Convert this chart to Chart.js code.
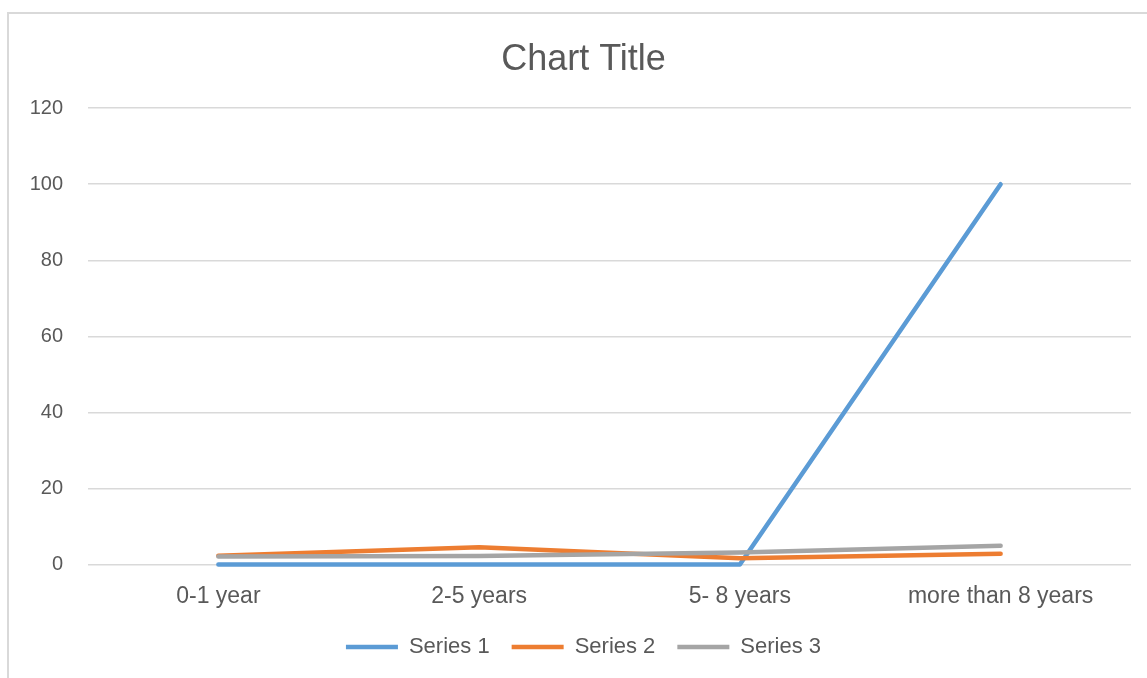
<!DOCTYPE html>
<html>
<head>
<meta charset="utf-8">
<script src="https://cdn.jsdelivr.net/npm/chart.js@4"></script>
<style>
  html, body { margin: 0; padding: 0; background: #ffffff; }
  #frame {
    position: absolute; left: 7px; top: 12px; width: 1160px; height: 700px;
    border: 2px solid #D9D9D9; box-sizing: border-box;
  }
  #wrap { position: absolute; left: 0; top: 0; width: 1147px; height: 678px; }
</style>
</head>
<body>
<div id="frame"></div>
<div id="wrap"><canvas id="chart" width="1147" height="678"></canvas></div>
<script>
// Categories and series values
const categories = ["0-1 year", "2-5 years", "5- 8 years", "more than 8 years"];
const series1 = [0, 0, 0, 100];
const series2 = [2.3, 4.5, 1.6, 2.8];
const series3 = [2.1, 2.2, 3.1, 4.9];
const seriesNames = ["Series 1", "Series 2", "Series 3"];
const yTicks = [0, 20, 40, 60, 80, 100, 120];

const textColor = "#595959";
const gridColor = "#D9D9D9";
const fontFamily = "'Liberation Sans', Arial, sans-serif";

function lineSet(label, data, color, order) {
  return {
    label, data,
    borderColor: color, backgroundColor: color,
    borderWidth: 4.5, borderCapStyle: "round", borderJoinStyle: "round",
    pointRadius: 0, pointHoverRadius: 0, tension: 0, fill: false,
    clip: false, order
  };
}

// The y axis sits inside the left padding band; widen the label clip boxes
// of both axes out to the canvas edges so no tick text is cut off.
const labelClip = {
  id: "labelClip",
  afterLayout(chart) {
    chart.scales.y.left = 0;
    chart.scales.x.bottom = chart.height;
  }
};

new Chart(document.getElementById("chart"), {
  type: "line",
  data: {
    labels: categories,
    datasets: [
      lineSet(seriesNames[0], series1, "#5B9BD5", 2),
      lineSet(seriesNames[1], series2, "#ED7D31", 1),
      lineSet(seriesNames[2], series3, "#A5A5A5", 0)
    ]
  },
  plugins: [labelClip],
  options: {
    responsive: false,
    animation: false,
    layout: { padding: { left: 36, right: 16, top: 0, bottom: 10 } },
    plugins: {
      title: {
        display: true, text: "Chart Title", color: textColor,
        font: { family: fontFamily, size: 36, weight: "normal", lineHeight: 1.2 },
        padding: { top: 38, bottom: 27 }
      },
      legend: {
        position: "bottom",
        labels: {
          color: textColor,
          font: { family: fontFamily, size: 22 },
          usePointStyle: true, pointStyle: "line", pointStyleWidth: 52,
          padding: 22,
          sort: (a, b) => a.datasetIndex - b.datasetIndex
        }
      },
      tooltip: { enabled: false }
    },
    scales: {
      x: {
        offset: true,
        afterFit: (scale) => { scale.height = 49.6; },
        grid: { display: false, drawTicks: false },
        border: { display: false },
        ticks: {
          color: textColor, padding: 18, maxRotation: 0, autoSkip: false,
          font: { family: fontFamily, size: 23, lineHeight: 1.2 }
        }
      },
      y: {
        min: 0, max: 120,
        afterBuildTicks: (scale) => { scale.ticks = yTicks.map(v => ({ value: v })); },
        afterFit: (scale) => { scale.width = 52; },
        grid: { color: gridColor, lineWidth: 1.5, drawTicks: false },
        border: { display: false },
        ticks: {
          color: textColor, padding: 25,
          font: { family: fontFamily, size: 20, lineHeight: 1.2 }
        }
      }
    }
  }
});
</script>
</body>
</html>
